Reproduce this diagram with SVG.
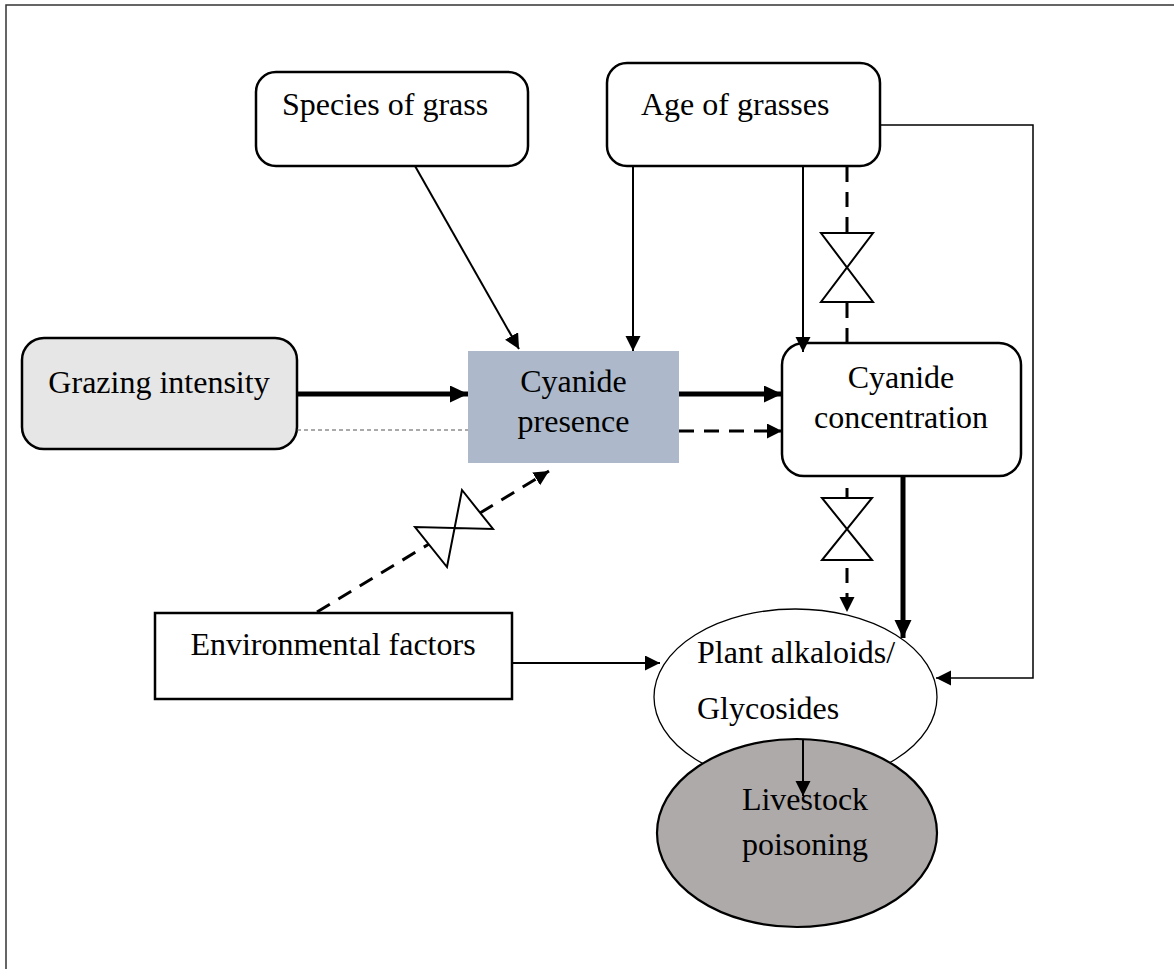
<svg xmlns="http://www.w3.org/2000/svg" width="1174" height="969" viewBox="0 0 1174 969">
<style>
text{font-family:"Liberation Serif","Times New Roman",serif;font-size:32px;fill:#000}
.box{stroke:#000;stroke-width:2.5}
.thin{stroke:#000;stroke-width:2;fill:none}
.thick{stroke:#000;stroke-width:5;fill:none}
.dash{stroke:#000;stroke-width:3;fill:none;stroke-dasharray:15 10}
.bow{fill:#fff;stroke:#000;stroke-width:2}
</style>
<defs>
<marker id="ah" markerUnits="userSpaceOnUse" markerWidth="16" markerHeight="16" refX="15" refY="7.5" orient="auto"><path d="M0,0 L15,7.5 L0,15 z" fill="#000"/></marker>
<marker id="ahb" markerUnits="userSpaceOnUse" markerWidth="20" markerHeight="20" refX="18" refY="8.5" orient="auto"><path d="M0,0 L18,8.5 L0,17 z" fill="#000"/></marker>
</defs>
<rect width="1174" height="969" fill="#fff"/>
<g id="frame"><path d="M6,969 V5 H1174" fill="none" stroke="#333" stroke-width="1.5"/></g>

<g id="plant">
<ellipse cx="795.5" cy="697" rx="141.5" ry="88" fill="#fff" stroke="#000" stroke-width="1.3"/>
<text x="697" y="663">Plant alkaloids/</text>
<text x="697" y="719">Glycosides</text>
</g>
<g id="livestock">
<ellipse cx="797" cy="833" rx="140" ry="94" fill="#aeaaaa" stroke="#000" stroke-width="2.2"/>
<text x="805" y="810" text-anchor="middle">Livestock</text>
<text x="805" y="855" text-anchor="middle">poisoning</text>
</g>

<g id="species"><rect class="box" x="256" y="72" width="272" height="94" rx="20" fill="#fff"/><text x="282" y="115">Species of grass</text></g>
<g id="age"><rect class="box" x="607" y="63" width="273" height="103" rx="20" fill="#fff"/><text x="641" y="115">Age of grasses</text></g>
<g id="grazing"><rect class="box" x="22" y="338" width="275" height="111" rx="22" fill="#e6e6e6"/><text x="159" y="393" text-anchor="middle">Grazing intensity</text></g>
<g id="presence"><rect x="468" y="351" width="211" height="112" fill="#adb9ca"/><text x="573.5" y="392" text-anchor="middle">Cyanide</text><text x="573.5" y="432" text-anchor="middle">presence</text></g>
<g id="concentration"><rect class="box" x="782" y="343" width="239" height="133" rx="22" fill="#fff"/><text x="901" y="388" text-anchor="middle">Cyanide</text><text x="901" y="428" text-anchor="middle">concentration</text></g>
<g id="environment"><rect class="box" x="155" y="613" width="357" height="86" fill="#fff"/><text x="333" y="655" text-anchor="middle">Environmental factors</text></g>

<g id="connectors">
<path class="thin" d="M415,166 L519,349" marker-end="url(#ah)"/>
<path class="thin" d="M633,166 V351" marker-end="url(#ah)"/>
<path class="thin" d="M803,166 V352" marker-end="url(#ah)"/>
<path class="dash" d="M847,167 V233"/>
<path class="dash" d="M847,303 V343"/>
<polygon class="bow" points="821,233 873,233 821,302 873,302"/>
<path class="thick" d="M297,394 H468" marker-end="url(#ahb)"/>
<path class="thick" d="M679,394 H782" marker-end="url(#ahb)"/>
<path d="M297,430 H468" stroke="#555" stroke-width="1" stroke-dasharray="4 3" fill="none"/>
<path class="dash" d="M679,431 H782" stroke-width="2.7" marker-end="url(#ah)"/>
<path class="dash" d="M317,612 L429,544"/>
<path class="dash" d="M480,513 L549,471" marker-end="url(#ah)"/>
<polygon class="bow" points="462,490 493,529 415,527 447,567"/>
<path class="dash" d="M847,488 V498"/>
<path class="dash" d="M847,568 V612" stroke-dasharray="15 14" marker-end="url(#ah)"/>
<polygon class="bow" points="822,498 872,498 822,560 872,560"/>
<path class="thick" d="M903,476 V638" marker-end="url(#ahb)"/>
<path class="thin" d="M512,663 H660" marker-end="url(#ah)"/>
<path d="M880,125 H1033 V678 H936" fill="none" stroke="#000" stroke-width="1.5" marker-end="url(#ah)"/>
<path class="thin" d="M803,740 V796" marker-end="url(#ah)"/>
</g>
</svg>
